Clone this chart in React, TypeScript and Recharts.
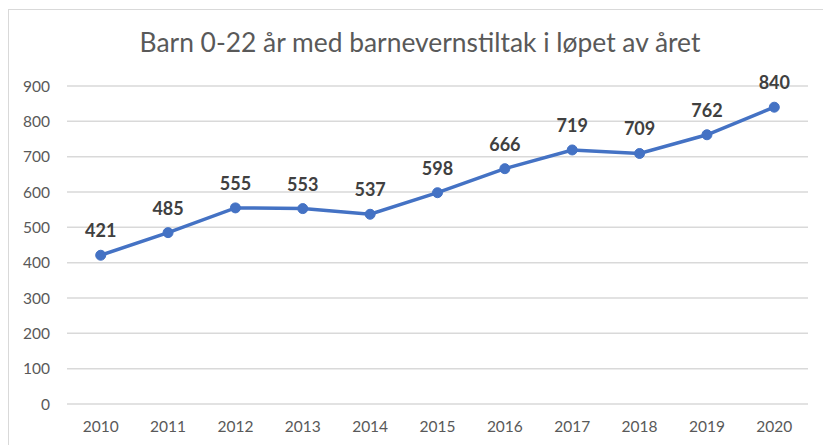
import { LineChart, Line, XAxis, YAxis, CartesianGrid, LabelList } from 'recharts';

const years = ['2010', '2011', '2012', '2013', '2014', '2015', '2016', '2017', '2018', '2019', '2020'];
const children = [421, 485, 555, 553, 537, 598, 666, 719, 709, 762, 840];
const yTicks = [0, 100, 200, 300, 400, 500, 600, 700, 800, 900];

const data = years.map((year, i) => ({ year, value: children[i] }));

const FONT = 'Lato, "Open Sans", sans-serif';

export default function App() {
  return (
    <div style={{ position: 'absolute', left: 0, top: 0, width: 823, height: 445, background: '#fff', fontFamily: FONT }}>
      {/* frame: only top and left edges are visible in the crop */}
      <div style={{ position: 'absolute', left: 8, top: 9, right: -2, bottom: -2, borderTop: '1.5px solid #d9d9d9', borderLeft: '1.5px solid #d9d9d9' }} />
      <div style={{ position: 'absolute', left: 0, width: 840, top: 26, textAlign: 'center', fontSize: 26.4, color: '#595959' }}>
        Barn 0-22 år med barnevernstiltak i løpet av året
      </div>
      <div style={{ position: 'absolute', left: 0, top: 0 }}>
        <LineChart width={823} height={445} data={data} margin={{ top: 86, right: 15, bottom: 0, left: 0 }}>
          <CartesianGrid stroke="#d9d9d9" strokeWidth={1.5} vertical={false} />
          <XAxis
            dataKey="year"
            axisLine={false}
            tickLine={false}
            tickSize={0}
            tickMargin={17}
            height={41}
            padding={{ left: 33.7, right: 33.7 }}
            tick={{ fill: '#595959', fontSize: 15.5, fontFamily: FONT }}
          />
          <YAxis
            domain={[0, 900]}
            ticks={yTicks}
            axisLine={false}
            tickLine={false}
            tickSize={0}
            tickMargin={17}
            width={67}
            tick={{ fill: '#595959', fontSize: 15.5, fontFamily: FONT }}
          />
          <Line
            dataKey="value"
            stroke="#4472C4"
            strokeWidth={3.5}
            dot={{ r: 5, fill: '#4472C4', stroke: '#4472C4', strokeWidth: 1 }}
            isAnimationActive={false}
          >
            <LabelList dataKey="value" position="top" offset={18} fill="#404040" fontSize={18} fontWeight="bold" fontFamily={FONT} />
          </Line>
        </LineChart>
      </div>
    </div>
  );
}
